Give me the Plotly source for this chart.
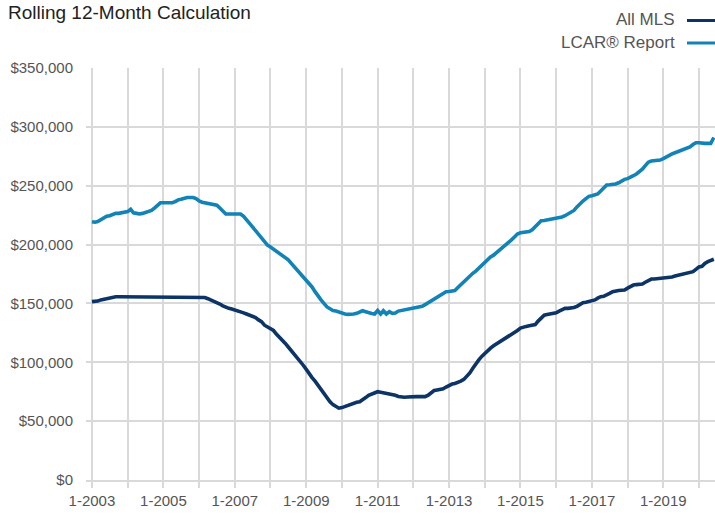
import plotly.graph_objects as go
import pandas as pd

# Monthly values (thousands of $), Jan 2003 .. Jun 2020
all_mls_k = [
    151.5, 151.5, 152, 153, 153.5, 154, 155, 155.7, 155.7, 155.7, 155.7, 155.5,   # 2003
    155.3, 155.2, 155, 155, 155.3, 155.5, 155.7, 155.5, 155.7, 155.7, 155.7, 155.7,  # 2004
    155.7, 155.7, 155.7, 155.7, 155.7, 155.7, 155.7, 155.7, 155.7, 155.7, 155.7, 155.7,  # 2005
    155.7, 155.5, 155, 154, 153, 152, 150.5, 149.5, 148, 146.5, 145.8, 145.2,  # 2006
    144.5, 143.5, 143, 142, 141, 140, 139.5, 138, 136, 134.5, 131.5, 130,      # 2007
    129, 127, 124, 121.5, 119, 116, 113, 110, 107, 104, 100.5, 97.5,           # 2008
    94, 90, 87, 84, 80.5, 77, 73.6, 70, 66.5, 64, 62.5, 61,                    # 2009
    61.5, 62.5, 63.5, 64.5, 65.5, 66, 66.5, 68, 70, 72, 73, 74,                # 2010
    75, 74.5, 74, 74, 73.6, 73, 72, 71, 70.3, 70.3, 70.5, 70.8,                # 2011
    70.8, 70.8, 70.8, 70.8, 70.8, 72, 74, 76, 76.5, 77, 77.5, 79,              # 2012
    80.5, 81.5, 82, 82.7, 84, 85.5, 87.8, 91, 95, 99, 102, 105,                # 2013
    107.6, 109.5, 112, 114, 115.5, 117.5, 119, 120.4, 122, 124, 125.5, 127,    # 2014
    129, 130, 130.5, 131, 131.5, 132, 135, 137.5, 140, 140.5, 141, 141.6,      # 2015
    142, 143.5, 145, 145.8, 145.8, 145.8, 146.5, 147.5, 149, 150.6, 151, 151.5,  # 2016
    152, 153, 154.5, 155.7, 156, 157, 158.5, 160, 160.8, 161, 161.2, 161.4,    # 2017
    163, 164.5, 165.6, 166, 166.3, 166.5, 168, 169.5, 170.7, 170.8, 171, 171,  # 2018
    171.3, 171.5, 172, 172.5, 173.3, 174, 174.5, 175.2, 176, 176.5, 177, 179,  # 2019
    181, 181.5, 184, 185.5, 186.5, 187.5,                                       # 2020
]

lcar_k = [
    219.4, 219, 219.5, 221, 222.5, 224, 224.5, 225.5, 226.5, 226.5, 227, 227.5,  # 2003
    228, 230, 227, 226.5, 226, 226.5, 227.5, 228, 229, 231, 233, 235.5,          # 2004
    235.5, 235.5, 235.5, 235.5, 236.5, 238, 238.5, 239.5, 240, 240, 240, 239,    # 2005
    237, 236, 235.5, 235.5, 235, 234.5, 233.5, 231, 228.5, 226, 226, 226,        # 2006
    226, 226, 226, 224, 220.5, 218, 215, 212, 208.5, 205, 202, 199.5,            # 2007
    198, 196, 194, 192.6, 191, 189, 187, 184, 181, 178.5, 176, 172,              # 2008
    170, 167, 164, 160, 156, 153, 150, 147, 145.5, 144, 143.5, 142.5,            # 2009
    141.5, 141, 140.7, 140.7, 141, 141.6, 142.5, 143.8, 143, 142, 141.5, 141,    # 2010
    144, 141, 143.8, 141, 143, 141.6, 141.8, 143.5, 144, 145, 145.2, 145.5,      # 2011
    146, 146.5, 146.7, 147.5, 149, 150.6, 152.5, 154.5, 156, 157.5, 159, 160,    # 2012
    160.2, 160.5, 161, 163.5, 166, 168.5, 171, 173.5, 175.6, 177.5, 180, 182,    # 2013
    184, 186.5, 189.5, 191, 193, 195, 197, 199.5, 201.5, 204, 206.5, 209,        # 2014
    210, 210.5, 211, 211, 212.5, 215, 218, 220.3, 220.5, 221, 221.5, 221.5,      # 2015
    222, 222.5, 223.5, 224.5, 226, 227, 229, 232, 235, 237, 239, 241,            # 2016
    241.5, 242, 243, 245.5, 248, 250.6, 250.8, 251, 251.5, 252.5, 254, 255.4,    # 2017
    256, 257, 258.5, 260, 262, 264, 267, 270, 271, 271.3, 271.6, 271.8,          # 2018
    273, 274.5, 276, 277, 278, 279, 279.5, 280.5, 281.5, 283, 285, 286.5,        # 2019
    286.5, 286, 286, 286, 286, 291,                                              # 2020
]

months = pd.date_range("2003-01-01", periods=len(all_mls_k), freq="MS")
all_mls = [v * 1000 for v in all_mls_k]
lcar = [v * 1000 for v in lcar_k]

series_names = ["All MLS", "LCAR® Report"]
series_colors = ["#0c3467", "#1283b6"]
title_text = "Rolling 12-Month Calculation"

W, H = 715, 515
L, R, T, B = 86, 0, 68, 35
pw, ph = W - L - R, H - T - B

def px(x):
    return (x - L) / pw

def py(y):
    return (H - B - y) / ph

fig = go.Figure()
fig.add_trace(go.Scatter(x=months, y=all_mls, mode="lines", name=series_names[0],
                         line=dict(color=series_colors[0], width=3.6), showlegend=False))
fig.add_trace(go.Scatter(x=months, y=lcar, mode="lines", name=series_names[1],
                         line=dict(color=series_colors[1], width=3.6), showlegend=False))

grid = "#d9d9d9"
font_fam = "Liberation Sans, Arial, sans-serif"

fig.update_layout(
    width=W, height=H,
    margin=dict(l=L, r=R, t=T, b=B, pad=0),
    paper_bgcolor="white", plot_bgcolor="white",
    font=dict(family=font_fam, size=15, color="#555555"),
    title=dict(text=title_text, x=8 / W, xanchor="left", xref="container",
               y=1 - 12 / H, yanchor="middle", yref="container",
               font=dict(family=font_fam, size=19, color="#222222")),
    xaxis=dict(
        type="date",
        range=["2002-11-01", "2020-06-13"],
        tick0="2003-01-01", dtick="M24", tickformat="%-m-%Y",
        showgrid=True, gridcolor=grid, gridwidth=2,
        ticks="outside", ticklen=6, tickwidth=2, tickcolor=grid,
        showline=True, linecolor=grid, linewidth=2,
        minor=dict(dtick="M12", tick0="2003-01-01", showgrid=True, gridcolor=grid,
                   gridwidth=2, ticks="outside", ticklen=6, tickwidth=2, tickcolor=grid),
        tickfont=dict(size=15, color="#555555"),
        zeroline=False,
    ),
    yaxis=dict(
        range=[0, 350000], dtick=50000, tickprefix="$", tickformat=",",
        showgrid=True, gridcolor=grid, gridwidth=2,
        zeroline=False, ticks="", ticklabelstandoff=12,
        tickfont=dict(size=15, color="#555555"),
    ),
)

legend_y_text = [19.7, 42.7]
legend_y_line = [20.5, 43]
for name, color, yt, yl in zip(series_names, series_colors, legend_y_text, legend_y_line):
    fig.add_annotation(text=name, xref="paper", yref="paper", x=px(677), y=py(yt),
                       xanchor="right", yanchor="middle", showarrow=False,
                       font=dict(family=font_fam, size=17, color="#555555"))
    fig.add_shape(type="line", xref="paper", yref="paper",
                  x0=px(687), x1=px(715), y0=py(yl), y1=py(yl),
                  line=dict(color=color, width=3))

fig.write_html("out.html",
               config={"displayModeBar": False},
               post_script="document.body.style.margin='0';document.body.style.overflow='hidden';")
